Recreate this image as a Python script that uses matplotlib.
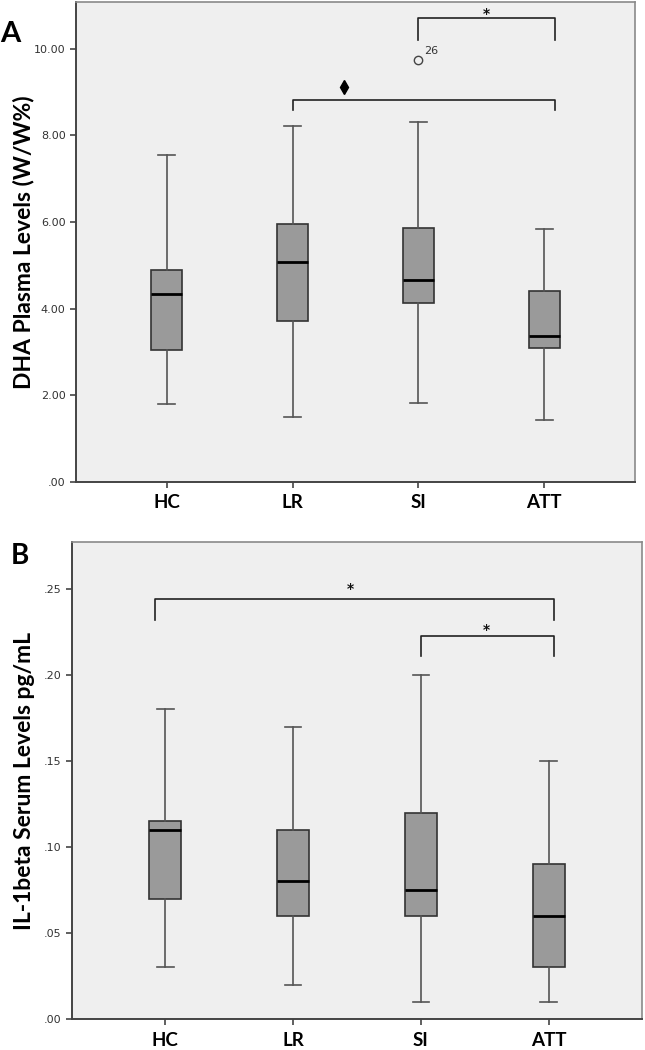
import matplotlib
matplotlib.use('Agg')
import matplotlib.pyplot as plt

# Groupes
groupes = ['HC', 'LR', 'SI', 'ATT']

# Panel A : DHA plasma (W/W%)
dha_bas = [1.80, 1.51, 1.82, 1.43]
dha_q1 = [3.05, 3.71, 4.14, 3.10]
dha_med = [4.33, 5.07, 4.66, 3.36]
dha_q3 = [4.90, 5.96, 5.86, 4.40]
dha_haut = [7.55, 8.23, 8.32, 5.84]
dha_outliers = [[], [], [9.75], []]
dha_outlier_ids = [[], [], ['26'], []]

# Panel B : IL-1beta serum (pg/mL)
il_bas = [0.030, 0.020, 0.010, 0.010]
il_q1 = [0.070, 0.060, 0.060, 0.030]
il_med = [0.110, 0.080, 0.075, 0.060]
il_q3 = [0.115, 0.110, 0.120, 0.090]
il_haut = [0.180, 0.170, 0.200, 0.150]

# Crochets de significativite : (x debut, x fin, hauteur, bas des bras, symbole, x symbole, y symbole)
crochets_A = [(3.0, 4.085, 10.71, 10.21, '*', 3.54, 10.80),
              (2.0, 4.085, 8.82, 8.59, 'diamant', 2.41, 9.11)]
crochets_B = [(0.92, 4.04, 0.244, 0.232, '*', 2.45, 0.250),
              (3.0, 4.04, 0.223, 0.211, '*', 3.51, 0.226)]

FOND = '#efefef'
BOITE = '#9a9a9a'
TRAIT = '#555555'
POLICE = 'Lato'


def stats(bas, q1, med, q3, haut, fliers=None):
    res = []
    for i in range(len(bas)):
        res.append({'whislo': bas[i], 'q1': q1[i], 'med': med[i], 'q3': q3[i],
                    'whishi': haut[i], 'fliers': fliers[i] if fliers else []})
    return res


def dessiner(ax, st, ylim, yticks, yticklabels, ylabel, xlim, xlab):
    ax.set_facecolor(FOND)
    ax.bxp(st, positions=range(1, len(groupes) + 1), widths=0.25,
           patch_artist=True, showfliers=True,
           boxprops=dict(facecolor=BOITE, edgecolor='#333333', linewidth=1.2),
           medianprops=dict(color='black', linewidth=2.0),
           whiskerprops=dict(color=TRAIT, linewidth=1.2),
           capprops=dict(color=TRAIT, linewidth=1.2),
           capwidths=0.13,
           flierprops=dict(marker='o', markerfacecolor='none',
                           markeredgecolor='#444444', markersize=6))
    ax.set_xlim(*xlim)
    ax.set_ylim(*ylim)
    ax.set_yticks(yticks)
    ax.set_yticklabels(yticklabels, fontsize=8, color='#333333', family='DejaVu Sans')
    ax.set_xticks(range(1, len(groupes) + 1))
    ax.set_xticklabels(groupes, fontsize=13.5, fontweight='bold', family=POLICE)
    ax.tick_params(axis='both', direction='out', length=4, width=1.2, color='#444444')
    ax.tick_params(axis='x', pad=5)
    ax.set_ylabel(ylabel, fontsize=16.5, fontweight='bold', family=POLICE, va='center')
    ax.yaxis.set_label_coords(xlab, 0.5)
    for s in ['top', 'right']:
        ax.spines[s].set_color('#8a8a8a')
        ax.spines[s].set_linewidth(1.2)
    for s in ['left', 'bottom']:
        ax.spines[s].set_color('#444444')
        ax.spines[s].set_linewidth(1.4)


def crochets(ax, liste):
    for x0, x1, h, b, sym, xs, ys in liste:
        ax.plot([x0, x0, x1, x1], [b, h, h, b], color='#222222', linewidth=1.2)
        if sym == 'diamant':
            ax.plot([xs], [ys], marker='d', color='black', markersize=7)
        else:
            ax.text(xs, ys, sym, ha='center', va='center', fontsize=10,
                    fontweight='bold', color='#111111')


fig = plt.figure(figsize=(6.45, 10.5), dpi=100)

# Panel A
axA = fig.add_axes([0.1178, 0.541, 0.8667, 0.457])
dessiner(axA, stats(dha_bas, dha_q1, dha_med, dha_q3, dha_haut, dha_outliers),
         (0, 11.08), [0, 2, 4, 6, 8, 10], ['.00', '2.00', '4.00', '6.00', '8.00', '10.00'],
         'DHA Plasma Levels (W/W%)', (0.28, 4.72), -0.093)
for i in range(len(groupes)):
    for v, lab in zip(dha_outliers[i], dha_outlier_ids[i]):
        axA.annotate(lab, (i + 1, v), xytext=(4, 4), textcoords='offset points',
                     fontsize=8, color='#333333')
crochets(axA, crochets_A)

# Panel B
axB = fig.add_axes([0.1116, 0.0295, 0.8837, 0.454])
dessiner(axB, stats(il_bas, il_q1, il_med, il_q3, il_haut),
         (0, 0.2772), [0, 0.05, 0.10, 0.15, 0.20, 0.25], ['.00', '.05', '.10', '.15', '.20', '.25'],
         'IL-1beta Serum Levels pg/mL', (0.27, 4.73), -0.083)
crochets(axB, crochets_B)

fig.text(0.0, 0.968, 'A', fontsize=21, fontweight='bold', family=POLICE, va='center')
fig.text(0.017, 0.47, 'B', fontsize=20, fontweight='bold', family=POLICE, va='center')

plt.savefig('out.png', dpi=100)
